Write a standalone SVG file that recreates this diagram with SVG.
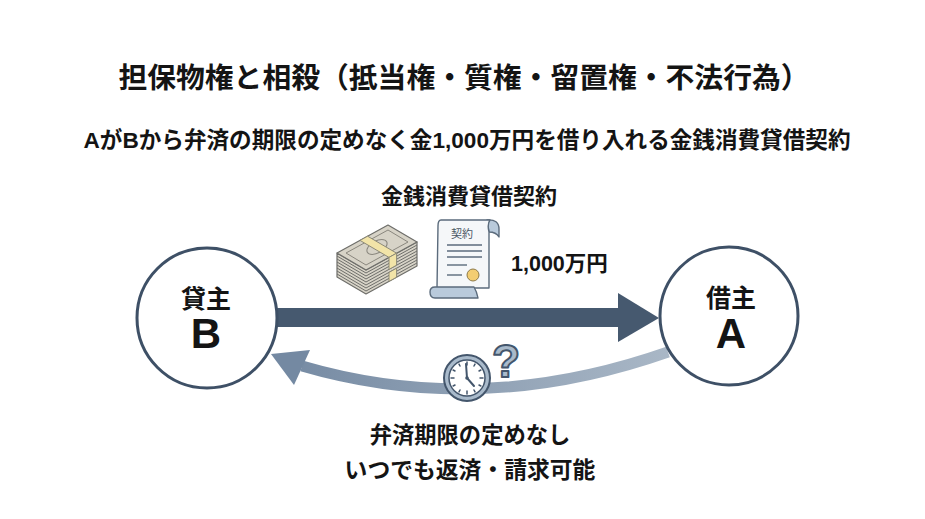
<svg xmlns="http://www.w3.org/2000/svg" width="925" height="519" viewBox="0 0 925 519">
  <style>
    .jp { font-family: "Liberation Sans", "Noto Sans CJK JP", sans-serif; font-weight: bold; fill: #141414; }
    .node { fill: #ffffff; stroke: #3e5066; stroke-width: 3; }
    .ink { stroke: #5b6b7c; stroke-width: 1.4; stroke-linejoin: round; }
    .money { fill: #d7d3c7; stroke: #6e6e6a; stroke-width: 1.2; stroke-linejoin: round; }
    .band { fill: #f2e4a8; stroke: #8d8a78; stroke-width: 1; }
  </style>
  <defs>
    <linearGradient id="retGrad" x1="272" y1="0" x2="668" y2="0" gradientUnits="userSpaceOnUse">
      <stop offset="0" stop-color="#7489a2"/>
      <stop offset="1" stop-color="#a9b7c6"/>
    </linearGradient>
  </defs>
  <rect width="925" height="519" fill="#ffffff"/>

  <g id="titles">
    <text class="jp" x="464" y="88" font-size="28.8" text-anchor="middle">担保物権と相殺（抵当権・質権・留置権・不法行為）</text>
    <text class="jp" x="467" y="148" font-size="22.6" text-anchor="middle">AがBから弁済の期限の定めなく金1,000万円を借り入れる金銭消費貸借契約</text>
  </g>

  <g id="connectors">
    <path d="M 668 352 Q 480 418 302 366" fill="none" stroke="url(#retGrad)" stroke-width="11"/>
    <polygon points="271,354 310,350 294,385" fill="#7489a2"/>
    <rect x="270" y="308" width="350" height="19" fill="#46596f"/>
    <polygon points="618,293 659,318 618,342" fill="#46596f"/>
  </g>

  <g id="node-lender">
    <circle class="node" cx="207" cy="318" r="70"/>
    <text class="jp" x="206" y="308" font-size="25" text-anchor="middle">貸主</text>
    <text class="jp" x="206" y="348" font-size="42" text-anchor="middle">B</text>
  </g>

  <g id="node-borrower">
    <circle class="node" cx="729" cy="316" r="69"/>
    <text class="jp" x="731" y="307" font-size="25" text-anchor="middle">借主</text>
    <text class="jp" x="731" y="348" font-size="42" text-anchor="middle">A</text>
  </g>

  <g id="label-contract">
    <text class="jp" x="469" y="204" font-size="22" text-anchor="middle">金銭消費貸借契約</text>
    <text class="jp" x="511" y="271" font-size="21.5">1,000万円</text>
  </g>

  <g id="icon-money">
    <polygon class="money" points="337,253 366,270 417,242 417,266 366,294 337,277"/>
    <polyline fill="none" stroke="#6e6e6a" stroke-width="1" points="337,256 366,273 417,245"/>
    <polyline fill="none" stroke="#6e6e6a" stroke-width="1" points="337,259 366,276 417,248"/>
    <polyline fill="none" stroke="#6e6e6a" stroke-width="1" points="337,262 366,279 417,251"/>
    <polyline fill="none" stroke="#6e6e6a" stroke-width="1" points="337,265 366,282 417,254"/>
    <polyline fill="none" stroke="#6e6e6a" stroke-width="1" points="337,268 366,285 417,257"/>
    <polyline fill="none" stroke="#6e6e6a" stroke-width="1" points="337,271 366,288 417,260"/>
    <polyline fill="none" stroke="#6e6e6a" stroke-width="1" points="337,274 366,291 417,263"/>
    <polygon class="money" points="337,253 388,225 417,242 366,270"/>
    <polygon fill="none" stroke="#8a877e" stroke-width="1" points="346,253 388,230 408,242 366,265"/>
    <ellipse cx="377" cy="247" rx="11" ry="6" fill="none" stroke="#8a877e" stroke-width="1" transform="rotate(-28 377 247)"/>
    <polygon class="band" points="360,240.4 367.6,236.2 396.6,253.2 389,257.4"/>
    <polygon class="band" points="389,257.4 396.6,253.2 396.6,265.2 389,269.4"/>
    <polygon class="band" points="389,272.4 396.6,268.2 396.6,277.2 389,281.4"/>
  </g>

  <g id="icon-contract">
    <path d="M 487 220 Q 499 219 499 229 L 499 237 Q 496 232 489 232 Z" fill="#b9cadb" class="ink"/>
    <path d="M 441 220 L 490 220 Q 487 224 489 232 L 489 288 L 437 288 L 438 226 Q 438 220 441 220 Z" fill="#f5f7f9" class="ink"/>
    <path d="M 430 292 Q 430 287 435 287 L 474 287 Q 477 292 478 298 L 435 298 Q 430 298 430 292 Z" fill="#b9cadb" class="ink"/>
    <text x="462" y="238" font-family="'Noto Sans CJK JP', sans-serif" font-size="11" fill="#4a5663" text-anchor="middle">契約</text>
    <g stroke="#5b6b7c" stroke-width="1.4">
      <line x1="447" y1="245" x2="482" y2="245"/>
      <line x1="447" y1="251" x2="482" y2="251"/>
      <line x1="447" y1="257" x2="482" y2="257"/>
      <line x1="447" y1="265" x2="467" y2="265"/>
      <line x1="447" y1="275" x2="462" y2="275"/>
    </g>
    <circle cx="473" cy="275" r="6" fill="#f3cd72" stroke="#8d7a4a" stroke-width="1"/>
  </g>

  <g id="icon-clock">
    <circle cx="467" cy="378" r="23" fill="#a9bacb" stroke="#44566c" stroke-width="2"/>
    <circle cx="467" cy="378" r="18" fill="#ffffff" stroke="#44566c" stroke-width="1.5"/>
    <g stroke="#44566c" stroke-width="1.5" stroke-linecap="round">
      <line x1="467" y1="362" x2="467" y2="365"/>
      <line x1="467" y1="391" x2="467" y2="394"/>
      <line x1="451" y1="378" x2="454" y2="378"/>
      <line x1="480" y1="378" x2="483" y2="378"/>
      <line x1="475" y1="364.1" x2="474" y2="366"/>
      <line x1="480.9" y1="370" x2="479" y2="371"/>
      <line x1="480.9" y1="386" x2="479" y2="385"/>
      <line x1="475" y1="391.9" x2="474" y2="390"/>
      <line x1="459" y1="391.9" x2="460" y2="390"/>
      <line x1="453.1" y1="386" x2="455" y2="385"/>
      <line x1="453.1" y1="370" x2="455" y2="371"/>
      <line x1="459" y1="364.1" x2="460" y2="366"/>
    </g>
    <line x1="467" y1="378" x2="466" y2="364" stroke="#44566c" stroke-width="2" stroke-linecap="round"/>
    <line x1="467" y1="378" x2="474" y2="386" stroke="#44566c" stroke-width="2" stroke-linecap="round"/>
    <circle cx="467" cy="378" r="1.8" fill="#44566c"/>
    <text x="506" y="377" font-family="'Liberation Sans', sans-serif" font-weight="bold" font-size="46" text-anchor="middle" fill="#a9bacb" stroke="#44566c" stroke-width="2" stroke-linejoin="round">?</text>
  </g>

  <g id="label-return">
    <text class="jp" x="470" y="443" font-size="22.3" text-anchor="middle">弁済期限の定めなし</text>
    <text class="jp" x="470" y="478" font-size="22.8" text-anchor="middle">いつでも返済・請求可能</text>
  </g>
</svg>
